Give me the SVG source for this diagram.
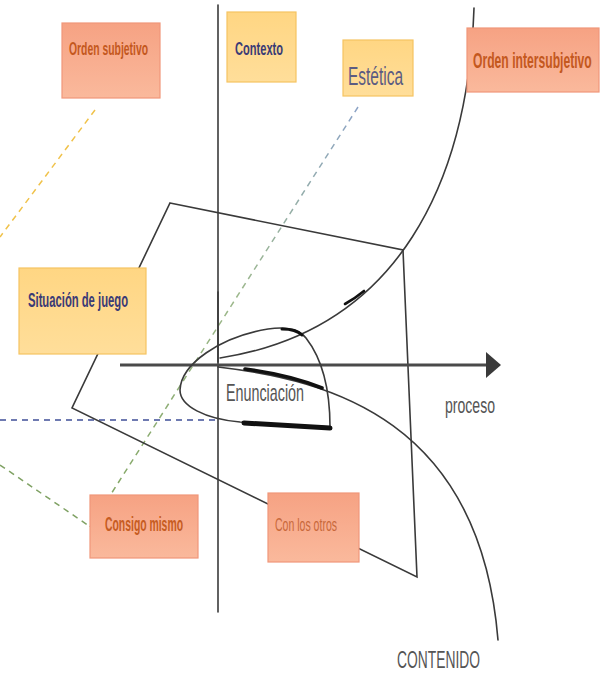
<svg xmlns="http://www.w3.org/2000/svg" width="614" height="687" viewBox="0 0 614 687">
<defs>
<linearGradient id="salmon" x1="0" y1="0" x2="0" y2="1">
<stop offset="0" stop-color="#F6A283"/>
<stop offset="1" stop-color="#FAB99C"/>
</linearGradient>
<linearGradient id="yellow" x1="0" y1="0" x2="0" y2="1">
<stop offset="0" stop-color="#FFD683"/>
<stop offset="1" stop-color="#FFDE9A"/>
</linearGradient>
<linearGradient id="estGrad" gradientUnits="userSpaceOnUse" x1="358" y1="107" x2="90" y2="527">
<stop offset="0" stop-color="#8CA3C6"/>
<stop offset="0.45" stop-color="#9DB88C"/>
<stop offset="1" stop-color="#7FA45E"/>
</linearGradient>
</defs>
<style>
.ln{fill:none;stroke:#3a3a3a;stroke-width:1.6;stroke-linecap:round}
.thick{fill:none;stroke:#111;stroke-linecap:round}
.sal{fill:url(#salmon);stroke:#F0977A;stroke-width:1.2}
.yel{fill:url(#yellow);stroke:#F5C462;stroke-width:1.2}
.t{font-family:"Liberation Sans Narrow","Liberation Sans",Arial,sans-serif}
.ts{fill:#C4581E;font-weight:bold}
.ty{fill:#3B3B76;font-weight:bold}
.dash{fill:none;stroke-width:1.5;stroke-dasharray:6 5}
</style>
<rect width="614" height="687" fill="#ffffff"/>

<g id="connectors">
<line class="dash" x1="95" y1="110" x2="0" y2="237" stroke="#F0C24A"/>
<line class="dash" x1="358" y1="107" x2="90" y2="527" stroke="url(#estGrad)"/>
<line class="dash" x1="0" y1="465" x2="92" y2="528" stroke="#7FA163"/>
<line class="dash" x1="0" y1="420" x2="220" y2="420" stroke="#3F4F98"/>
<polygon class="ln" points="170,203 403,250 417,577 72,408" stroke-width="2.2" stroke="#444"/>
<line class="ln" x1="218" y1="5" x2="218" y2="612" stroke-width="1.4"/>
<line class="ln" x1="218" y1="292" x2="218" y2="362" stroke-width="2.4"/>
<line x1="120" y1="365" x2="488" y2="365" stroke="#4a4a4a" stroke-width="3"/>
<polygon points="486,352 501,365 486,378" fill="#3a3a3a"/>
<path class="ln" d="M474,8 C468,180 400,330 220,358"/>
<path class="thick" d="M345,304 C352,300 358,296 364,291" stroke-width="2.6"/>
<path class="ln" d="M330,427 L240,422 C205,419 180,406 180,390 C181,364 220,337 268,329 C288,326 300,330 306,338 C320,356 330,385 330,427 Z"/>
<path class="thick" d="M244,423 L330,428" stroke-width="5"/>
<path class="thick" d="M282,329 C292,329 298,331 302,335" stroke-width="3"/>
<path class="ln" d="M218,367 C330,380 480,420 498,640"/>
<path class="thick" d="M245,369 C275,373 300,379 322,388" stroke-width="3.6"/>
</g>

<g id="n-orden-subjetivo">
<rect class="sal" x="62" y="23" width="98" height="75"/>
<text class="t ts" x="69" y="55" font-size="18" textLength="79" lengthAdjust="spacingAndGlyphs">Orden subjetivo</text>
</g>
<g id="n-contexto">
<rect class="yel" x="227" y="12" width="69" height="70"/>
<text class="t ty" x="235" y="55" font-size="18" textLength="48" lengthAdjust="spacingAndGlyphs">Contexto</text>
</g>
<g id="n-estetica">
<rect class="yel" x="343" y="40" width="70" height="56"/>
<text class="t" x="348" y="85" font-size="26" fill="#5B5B82" textLength="55" lengthAdjust="spacingAndGlyphs">Estética</text>
</g>
<g id="n-orden-intersubjetivo">
<rect class="sal" x="467" y="28" width="132" height="64"/>
<text class="t ts" transform="translate(473,68) scale(0.55,1)" x="0" y="0" font-size="22" textLength="216" lengthAdjust="spacingAndGlyphs">Orden intersubjetivo</text>
</g>
<g id="n-situacion">
<rect class="yel" x="19" y="268" width="127" height="86"/>
<text class="t ty" x="28" y="307" font-size="20" textLength="100" lengthAdjust="spacingAndGlyphs">Situación de juego</text>
</g>
<g id="n-consigo">
<rect class="sal" x="90" y="495" width="108" height="63"/>
<text class="t" x="105" y="531" font-size="20" fill="#C65C22" font-weight="bold" textLength="78" lengthAdjust="spacingAndGlyphs">Consigo mismo</text>
</g>
<g id="n-con-los-otros">
<rect class="sal" x="268" y="493" width="91" height="69"/>
<text class="t" x="275" y="531" font-size="19" fill="#C8683A" textLength="62" lengthAdjust="spacingAndGlyphs">Con los otros</text>
</g>
<g id="n-enunciacion">
<text class="t" x="226" y="401" font-size="24" fill="#555" textLength="78" lengthAdjust="spacingAndGlyphs">Enunciación</text>
</g>
<g id="n-proceso">
<text class="t" x="445" y="413" font-size="22" fill="#555" textLength="50" lengthAdjust="spacingAndGlyphs">proceso</text>
</g>
<g id="n-contenido">
<text class="t" x="397" y="668" font-size="23" fill="#555" textLength="83" lengthAdjust="spacingAndGlyphs">CONTENIDO</text>
</g>
</svg>
